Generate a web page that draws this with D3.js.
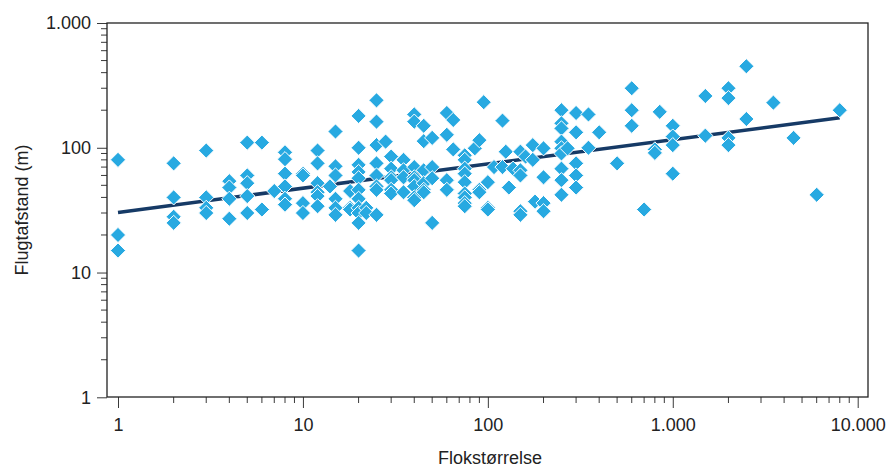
<!DOCTYPE html>
<html>
<head>
<meta charset="utf-8">
<script src="https://cdn.jsdelivr.net/npm/d3@7/dist/d3.min.js"></script>
<style>
  html, body { margin: 0; padding: 0; background: #fff; }
  svg { display: block; font-family: "Liberation Sans", Arial, Helvetica, sans-serif; }
</style>
</head>
<body>
<svg id="chart" width="890" height="468"></svg>
<script>
// Flock size (x) and flight distance in metres (y), one entry per observation
const flockSize = [
  1, 1, 1,
  2, 2, 2, 2,
  3, 3, 3, 3,
  4, 4, 4, 4,
  5, 5, 5, 5, 5,
  6, 6,
  7,
  8, 8, 8, 8, 8, 8,
  10, 10, 10, 10,
  12, 12, 12, 12, 12, 12,
  14,
  15, 15, 15, 15, 15, 15,
  18, 18, 18,
  20, 20, 20, 20, 20, 20, 20, 20, 20, 20, 20,
  22, 22,
  25, 25, 25, 25, 25, 25, 25, 25,
  28,
  30, 30, 30, 30, 30, 30,
  35, 35, 35, 35,
  40, 40, 40, 40, 40, 40, 40, 40,
  45, 45, 45, 45, 45, 45,
  50, 50, 50, 50,
  60, 60, 60, 60,
  65, 65,
  75, 75, 75, 75, 75, 75, 75, 75, 75,
  85,
  90, 90, 90,
  95,
  100, 100, 100,
  108,
  120, 120,
  125,
  130,
  137,
  150, 150, 150, 150, 150,
  160,
  175, 175,
  180,
  200, 200, 200, 200,
  250, 250, 250, 250, 250, 250, 250, 250, 250,
  270,
  300, 300, 300, 300, 300,
  350, 350,
  400,
  500,
  600, 600, 600,
  700,
  800, 800,
  850,
  1000, 1000, 1000, 1000,
  1500, 1500,
  2000, 2000, 2000, 2000,
  2500, 2500,
  3500,
  4500,
  6000,
  8000
];
const flightDistance = [
  80, 20, 15,
  75, 40, 28, 25,
  95, 40, 33, 30,
  54, 48, 39, 27,
  110, 60, 52, 41, 30,
  110, 32,
  45,
  92, 81, 62, 49, 39, 35,
  62, 60, 36, 30,
  95, 75, 52, 44, 41, 34,
  49,
  135, 71, 60, 39, 33, 29,
  45, 33, 32,
  180, 100, 73, 64, 57, 46, 39, 33, 30, 25, 15,
  33, 30,
  240, 162, 105, 75, 60, 49, 46, 29,
  112,
  85, 68, 58, 55, 46, 43,
  80, 66, 58, 44,
  185, 162, 70, 58, 55, 49, 40, 38,
  150, 113, 66, 52, 46, 44,
  120, 70, 57, 25,
  190, 127, 55, 46,
  167, 97,
  87, 80, 68, 62, 53, 43, 40, 36, 34,
  99,
  115, 46, 44,
  232,
  53, 33, 32,
  70,
  165, 70,
  93,
  48,
  68,
  93, 66, 60, 31, 29,
  85,
  105, 80,
  37,
  99, 58, 36, 31,
  200, 157, 143, 112, 99, 90, 68, 55, 42,
  99,
  190, 133, 75, 60, 48,
  185, 100,
  133,
  75,
  300, 200, 150,
  32,
  97, 91,
  194,
  150, 123, 105, 62,
  260, 125,
  300, 250, 120, 105,
  450, 170,
  230,
  120,
  42,
  200
];

// Fitted power-law trend, given by its two end points
const trendX = [1, 8000];
const trendY = [30.3, 174];

// Axis tick values and labels
const xTicks = [1, 10, 100, 1000, 10000];
const xTickLabels = ["1", "10", "100", "1.000", "10.000"];
const yTicks = [1, 10, 100, 1000];
const yTickLabels = ["1", "10", "100", "1.000"];

const xTitle = "Flokstørrelse";
const yTitle = "Flugtafstand (m)";

const svg = d3.select("#chart");
const plot = { left: 107, right: 868, top: 23, bottom: 397 };

const x = d3.scaleLog().domain([10000 ** ((107 - 118) / 739.7), 10000 ** ((868 - 118) / 739.7)])
  .range([plot.left, plot.right]);
const y = d3.scaleLog().domain([1, 1000]).range([397.3, 23]);

const axisColor = "#3a3a3a";
const textColor = "#222";
const fontSize = "18px";

// Minor ticks for each decade
function minorTicks(lo, hi) {
  const out = [];
  for (let d = lo; d < hi; d *= 10) {
    for (let k = 2; k <= 9; k++) out.push(d * k);
  }
  return out;
}

// Left axis
const yAxis = d3.axisLeft(y).tickValues(yTicks).tickSize(10).tickPadding(6)
  .tickFormat((d, i) => yTickLabels[i]);
const gy = svg.append("g").attr("transform", `translate(${plot.left},0)`).call(yAxis);
gy.select(".domain").remove();
gy.selectAll(".tick line").attr("stroke", axisColor);
gy.selectAll(".tick text").attr("fill", textColor).style("font-size", fontSize);
gy.append("g").selectAll("line").data(minorTicks(1, 1000)).join("line")
  .attr("x1", -6).attr("x2", 0)
  .attr("y1", d => y(d)).attr("y2", d => y(d))
  .attr("stroke", axisColor);

// Bottom axis
const xAxis = d3.axisBottom(x).tickValues(xTicks).tickSize(11).tickPadding(10)
  .tickFormat((d, i) => xTickLabels[i]);
const gx = svg.append("g").attr("transform", `translate(0,${plot.bottom})`).call(xAxis);
gx.select(".domain").remove();
gx.selectAll(".tick line").attr("stroke", axisColor);
gx.selectAll(".tick text").attr("fill", textColor).style("font-size", fontSize);
gx.append("g").selectAll("line").data(minorTicks(1, 10000).filter(d => x(d) <= plot.right)).join("line")
  .attr("x1", d => x(d)).attr("x2", d => x(d))
  .attr("y1", 0).attr("y2", 6)
  .attr("stroke", axisColor);

// Plot frame
svg.append("rect")
  .attr("x", plot.left).attr("y", plot.top)
  .attr("width", plot.right - plot.left).attr("height", plot.bottom - plot.top)
  .attr("fill", "none").attr("stroke", "#222").attr("stroke-width", 1.3);

// Trend line
svg.append("line")
  .attr("x1", x(trendX[0])).attr("y1", y(trendY[0]))
  .attr("x2", x(trendX[1])).attr("y2", y(trendY[1]))
  .attr("stroke", "#163a66").attr("stroke-width", 3.5);

// Observations as diamonds
const r = 7.6;
const diamond = `M0,${-r}L${r},0L0,${r}L${-r},0Z`;
svg.append("g").selectAll("path").data(flockSize.map((d, i) => [d, flightDistance[i]])).join("path")
  .attr("d", diamond)
  .attr("transform", d => `translate(${x(d[0])},${y(d[1])})`)
  .attr("fill", "#27a9e1")
  .attr("stroke", "#fff").attr("stroke-width", 1);

// Axis titles
svg.append("text")
  .attr("x", 490).attr("y", 464)
  .attr("text-anchor", "middle").attr("fill", textColor)
  .style("font-size", fontSize).text(xTitle);
svg.append("text")
  .attr("transform", `translate(28,${(plot.top + plot.bottom) / 2}) rotate(-90)`)
  .attr("text-anchor", "middle").attr("fill", textColor)
  .style("font-size", fontSize).text(yTitle);
</script>
</body>
</html>
